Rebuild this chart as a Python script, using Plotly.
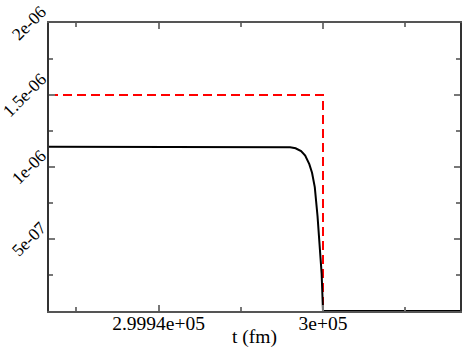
import plotly.graph_objects as go

# black curve: smooth drop near t = 3e+05
t_black = [299900, 299985, 299988, 299990, 299992, 299993.5, 299995, 299996,
           299997, 299998, 299999, 299999.5, 300000, 300050]
v_black = [1.14e-06, 1.14e-06, 1.137e-06, 1.13e-06, 1.11e-06, 1.08e-06, 1.02e-06, 0.96e-06,
           0.86e-06, 0.66e-06, 0.41e-06, 0.26e-06, 0.0, 0.0]

# red dashed: sharp step
t_red = [299900, 300000, 300000, 300050]
v_red = [1.5e-06, 1.5e-06, 0.0, 0.0]

x_tickvals = [299940, 300000]
x_ticktext = ["2.9994e+05", "3e+05"]
y_tickvals = [5e-07, 1e-06, 1.5e-06, 2e-06]
y_ticktext = ["5e-07", "1e-06", "1.5e-06", "2e-06"]

fig = go.Figure()
fig.add_trace(go.Scatter(x=t_red, y=v_red, mode="lines",
                         line=dict(color="#ff0000", width=2, dash="9px,5px")))
fig.add_trace(go.Scatter(x=t_black, y=v_black, mode="lines",
                         line=dict(color="#000000", width=2)))

fig.update_layout(
    width=463, height=352, margin=dict(l=49, r=3, t=23, b=41),
    paper_bgcolor="white", plot_bgcolor="white", showlegend=False,
    font=dict(family="Liberation Serif, Times New Roman, serif", size=19.5, color="black"),
)
fig.update_xaxes(
    range=[299900, 300050], showgrid=False, zeroline=False, automargin=False,
    showline=True, linecolor="#555", linewidth=1.5, mirror="ticks",
    ticks="inside", ticklen=6, tickcolor="#777", tickwidth=1.5, ticklabelstandoff=-6,
    tickmode="array", tickvals=x_tickvals, ticktext=x_ticktext,
    minor=dict(ticks="inside", ticklen=4, tickcolor="#777", tickwidth=1.5, dtick=30, tick0=299940),
)
fig.update_yaxes(
    range=[0, 2e-06], showgrid=False, zeroline=False, automargin=False,
    showline=True, linecolor="#333", linewidth=1.5, mirror="ticks",
    ticks="inside", ticklen=6, tickcolor="#777", tickwidth=1.5,
    tickmode="array", tickvals=y_tickvals, ticktext=[""] * len(y_tickvals),
    minor=dict(ticks="inside", ticklen=4, tickcolor="#777", tickwidth=1.5, dtick=2.5e-07, tick0=0),
)
# y tick labels centred on their ticks, rotated like the original
for val, txt in zip(y_tickvals, y_ticktext):
    fig.add_annotation(text=txt, xref="paper", yref="y", x=0, y=val, xshift=4, yshift=0,
                       xanchor="right", yanchor="middle", textangle=-45,
                       showarrow=False, font=dict(size=17.5))
fig.add_annotation(text="t (fm)", xref="paper", yref="paper", x=0.5, y=0,
                   yshift=-13, yanchor="top", showarrow=False, font=dict(size=19.5))

fig.write_html("out.html", config={"displayModeBar": False},
               post_script="document.body.style.margin='0px';")
